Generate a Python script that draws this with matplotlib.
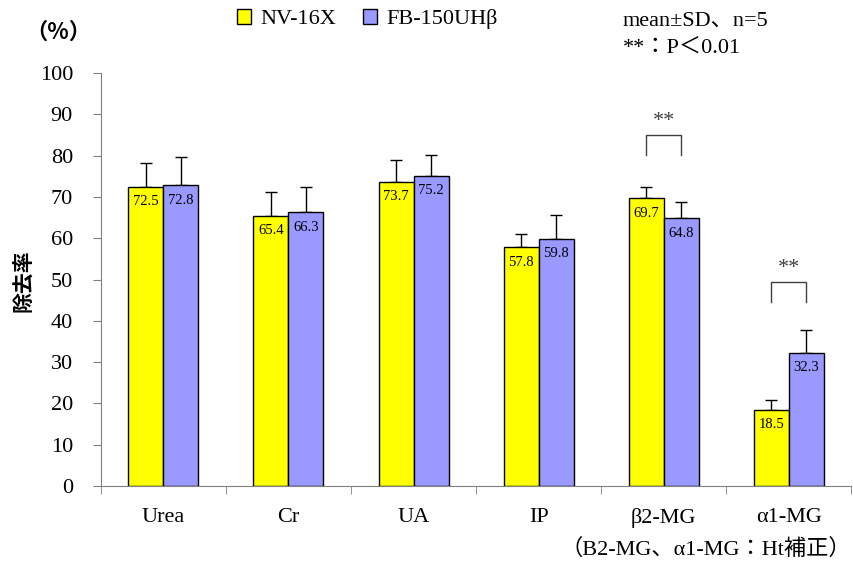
import matplotlib
matplotlib.use("Agg")
import matplotlib.pyplot as plt
import numpy as np

categories = ["Urea", "Cr", "UA", "IP", "β2-MG", "α1-MG"]
nv16x = [72.5, 65.4, 73.7, 57.8, 69.7, 18.5]
nv16x_sd = [5.8, 5.7, 5.3, 3.2, 2.8, 2.3]
fb150 = [72.8, 66.3, 75.2, 59.8, 64.8, 32.3]
fb150_sd = [6.8, 6.2, 5.0, 5.9, 4.0, 5.4]
series_names = ["NV-16X", "FB-150UHβ"]
# significance brackets: (category index, bracket top, leg bottom)
sig_marks = [(4, 85.1, 80.1), (5, 49.5, 44.5)]

serif = ["Liberation Serif", "Noto Sans CJK JP"]
plt.rcParams["font.family"] = serif

fig = plt.figure(figsize=(8.54, 5.63), dpi=100)
ax = fig.add_axes([0.118, 0.137, 0.879, 0.733])

x = np.arange(len(categories))
w = 0.28
err_kw = dict(ecolor="black", elinewidth=1, capsize=4, capthick=1)
b1 = ax.bar(x - w / 2, nv16x, w, color="#FFFF00", edgecolor="black", linewidth=1,
            label=series_names[0], zorder=2)
ax.errorbar(x - w / 2, nv16x, yerr=[np.zeros(len(x)), nv16x_sd], fmt="none", zorder=1, **err_kw)
b2 = ax.bar(x + w / 2, fb150, w, color="#9999FF", edgecolor="black", linewidth=1,
            label=series_names[1], zorder=2)
ax.errorbar(x + w / 2, fb150, yerr=[np.zeros(len(x)), fb150_sd], fmt="none", zorder=1, **err_kw)

for xs, vals in [(x - w / 2, nv16x), (x + w / 2, fb150)]:
    for xi, v in zip(xs, vals):
        ax.text(xi, v - 3.6, f"{v:.1f}", ha="center", va="center", fontsize=10.5, zorder=3)

for i, top, bot in sig_marks:
    ax.plot([i - w / 2, i - w / 2, i + w / 2, i + w / 2], [bot, top, top, bot],
            color="#404040", lw=1)
    ax.text(i, top + 0.8, "**", ha="center", va="bottom", fontsize=16, color="#404040")

ax.set_ylim(0, 100)
ax.set_yticks(np.arange(0, 101, 10))
ax.set_xlim(-0.5, len(categories) - 0.5)
ax.set_xticks(x)
ax.set_xticklabels(categories)
ax.set_xticks(np.arange(-0.5, len(categories)), minor=True)
ax.tick_params(axis="x", which="major", length=0, pad=16, labelsize=16)
ax.tick_params(axis="x", which="minor", length=6, color="#808080")
ax.tick_params(axis="y", length=6, color="#808080", labelsize=16, pad=14)

for s in ["top", "right"]:
    ax.spines[s].set_visible(False)
for s in ["left", "bottom"]:
    ax.spines[s].set_color("#808080")

fig.text(0.027, 0.502, "除去率", family=["Noto Sans CJK JP"], fontweight="bold", fontsize=15,
         rotation=90, ha="center", va="center")
fig.text(0.030, 0.942, "（%）", family=["Noto Sans CJK JP"], fontweight="bold", fontsize=16,
         va="center", ha="left")

fig.legend(handles=[b1, b2], loc="center", bbox_to_anchor=(0.43, 0.966), ncol=2, frameon=False,
           fontsize=16, handlelength=0.65, handleheight=0.65, handletextpad=0.4, columnspacing=1.2)

fig.text(0.729, 0.962, "mean±SD、n=5", fontsize=16, va="center", ha="left")
fig.text(0.729, 0.912, "**：P＜0.01", fontsize=16, va="center", ha="left")
fig.text(0.997, 0.024, "（B2-MG、α1-MG：Ht補正）", fontsize=16, va="center", ha="right")

fig.savefig("out.png", dpi=100)
